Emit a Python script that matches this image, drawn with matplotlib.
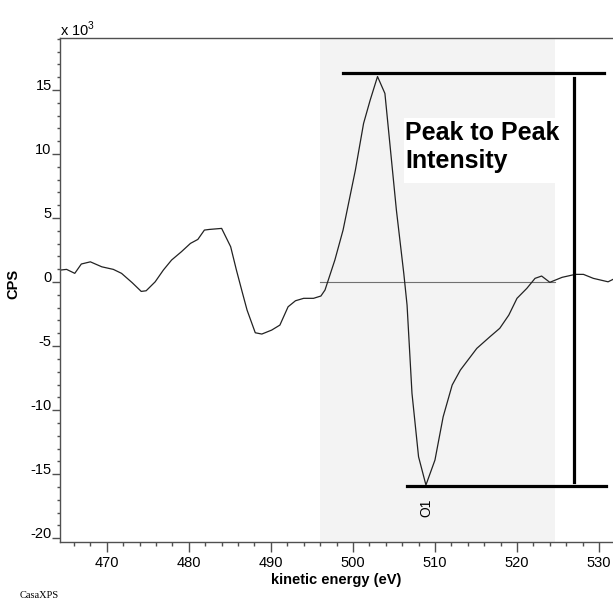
import numpy as np
import matplotlib
matplotlib.use("Agg")
import matplotlib.pyplot as plt
from matplotlib.patches import Rectangle
from matplotlib.ticker import MultipleLocator

plt.rcParams["font.family"] = ["Liberation Sans", "DejaVu Sans"]
plt.rcParams["mathtext.fontset"] = "custom"
plt.rcParams["mathtext.rm"] = "Liberation Sans"
plt.rcParams["axes.unicode_minus"] = False

# kinetic energy (eV) and derivative intensity (CPS / 1000)
energy = [464.4, 465.1, 466.1, 466.9, 468.0, 469.4, 470.8, 471.8, 473.1, 474.2,
          474.8, 475.9, 476.9, 477.9, 479.1, 480.2, 481.1, 481.9, 482.5, 484.0,
          485.1, 485.8, 486.5, 487.1, 488.1, 488.9, 490.1, 491.1, 492.1, 493.0,
          494.0, 495.2, 496.1, 496.6, 497.0, 497.8, 498.8, 500.3, 501.3, 502.1,
          503.0, 503.9, 504.5, 505.3, 506.2, 506.6, 507.2, 508.0, 508.9, 510.0,
          511.0, 512.1, 513.1, 515.1, 516.7, 517.9, 519.0, 520.0, 521.2, 522.2,
          523.0, 524.0, 525.5, 527.1, 528.1, 529.3, 531.1, 531.7]
cps_k = [0.94, 0.99, 0.68, 1.41, 1.58, 1.19, 0.99, 0.68, -0.05, -0.73,
         -0.68, 0.02, 0.94, 1.72, 2.37, 3.02, 3.33, 4.06, 4.11, 4.19,
         2.76, 0.94, -0.76, -2.19, -3.96, -4.06, -3.75, -3.36, -1.93, -1.46,
         -1.27, -1.27, -1.09, -0.62, 0.16, 1.72, 4.06, 8.74, 12.39, 14.2,
         16.05, 14.73, 10.83, 5.62, 0.68, -1.8, -8.69, -13.64, -15.85, -13.9,
         -10.52, -8.04, -6.87, -5.18, -4.27, -3.61, -2.58, -1.27, -0.49, 0.29,
         0.47, -0.02, 0.37, 0.6, 0.6, 0.29, 0.02, 0.21]

region = (496.0, 524.6)
peak_max = 16.3
peak_min = -15.95
top_bar = (498.8, 530.6)
bottom_bar = (506.6, 530.8)
arrow_x = 527.0
component_x = 508.9
component_name = "O1"


def main():
    fig = plt.figure(figsize=(6.13, 6.0), dpi=100)
    ax = fig.add_axes([60 / 613, 58 / 600, 553 / 613, 504 / 600])

    ax.axvspan(*region, color="#f3f3f3", lw=0, zorder=0)
    ax.plot(region, [0, 0], color="#707070", lw=0.8, zorder=1)
    ax.plot(energy, cps_k, color="#222222", lw=0.9, zorder=2)

    ax.plot(top_bar, [peak_max, peak_max], color="black", lw=2.3, zorder=3)
    ax.plot(bottom_bar, [peak_min, peak_min], color="black", lw=2.3, zorder=3)
    ax.plot([arrow_x, arrow_x], [15.9, -15.6], color="black", lw=2.3, zorder=3)

    # white label backing, running to the right edge of the shaded region
    ax.add_patch(Rectangle((506.2, 7.75), region[1] - 506.2, 5.05,
                           fc="white", ec="none", zorder=3.5))
    ax.text(506.35, 12.6, "Peak to Peak\nIntensity", fontsize=18, fontweight="bold",
            ha="left", va="top", zorder=4)
    ax.annotate(component_name, (component_x, peak_min), xytext=(0, -9),
                textcoords="offset points", rotation=90, ha="center", va="top",
                fontsize=10)

    ax.set_xlim(464.3, 531.7)
    ax.set_ylim(-20.3, 19.06)
    ax.xaxis.set_major_locator(MultipleLocator(10))
    ax.xaxis.set_minor_locator(MultipleLocator(2))
    ax.yaxis.set_major_locator(MultipleLocator(5))
    ax.yaxis.set_minor_locator(MultipleLocator(1))

    for side in ("left", "bottom", "top"):
        ax.spines[side].set_color("#505050")
        ax.spines[side].set_linewidth(1.0)
    ax.spines["right"].set_visible(False)

    ax.tick_params(axis="x", which="major", length=7, width=1, color="#505050",
                   pad=3, labelsize=10.5, direction="out")
    ax.tick_params(axis="x", which="minor", length=3, width=1, color="#505050",
                   direction="out")
    ax.tick_params(axis="y", which="major", length=5.5, width=1, color="#505050",
                   pad=0.5, labelsize=10.5, direction="out")
    ax.tick_params(axis="y", which="minor", length=2.5, width=1, color="#505050",
                   direction="out")
    for label in ax.get_yticklabels():
        label.set_verticalalignment("baseline")

    fig.text(336 / 613, 1 - 580 / 600, "kinetic energy (eV)", fontsize=10.5,
             fontweight="bold", ha="center", va="center")
    fig.text(13 / 613, 1 - 284 / 600, "CPS", fontsize=10.5, fontweight="bold",
             rotation=90, ha="center", va="center")
    fig.text(60 / 613, 1 - 36 / 600, r"x 10$^{3}$", fontsize=10.5,
             ha="left", va="baseline")
    fig.text(20 / 613, 1 - 595 / 600, "CasaXPS", fontsize=7.5,
             family="Liberation Serif", ha="left", va="center")

    fig.savefig("out.png", dpi=100)


if __name__ == "__main__":
    main()
